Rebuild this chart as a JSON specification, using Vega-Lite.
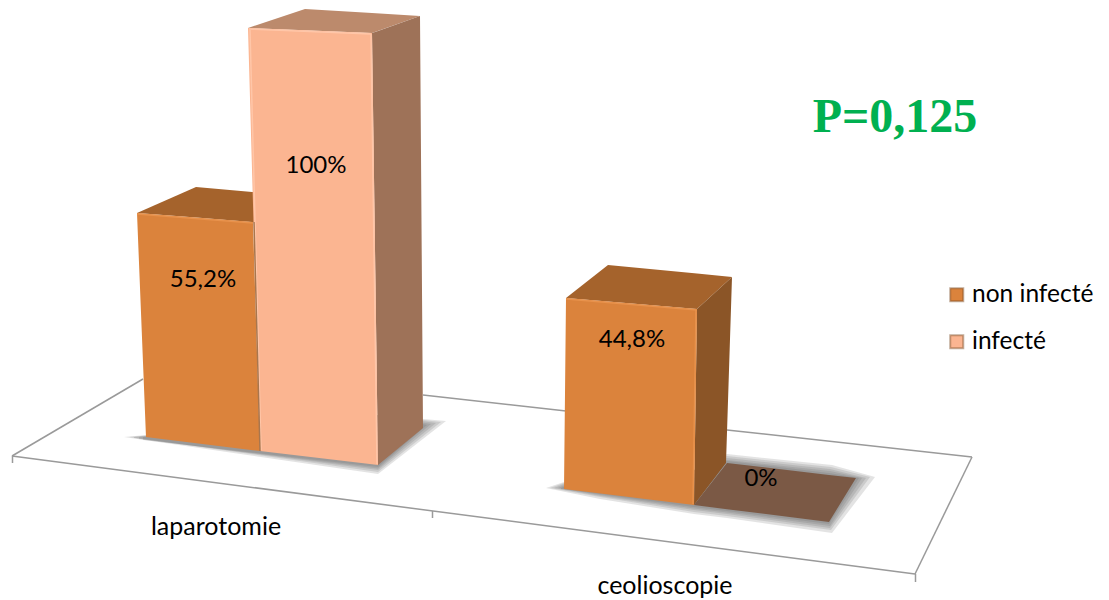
{
"$schema":"https://vega.github.io/schema/vega-lite/v6.json",
"width":1109,"height":600,"padding":0,
"autosize":{"type":"fit","contains":"padding"},
"background":"white",
"view":{"stroke":null},
"config":{"font":"Lato"},
"datasets":{
"floor":[
{"seg":"front","x":12,"y":456},{"seg":"front","x":915,"y":574},
{"seg":"left","x":12,"y":456},{"seg":"left","x":143,"y":379},
{"seg":"right","x":915,"y":574},{"seg":"right","x":972,"y":457},
{"seg":"back1","x":423,"y":395},{"seg":"back1","x":566,"y":411},
{"seg":"back2","x":727,"y":430},{"seg":"back2","x":972,"y":457},
{"seg":"t1","x":12.5,"y":456},{"seg":"t1","x":12.5,"y":463},
{"seg":"t2","x":432.5,"y":511},{"seg":"t2","x":432.5,"y":518},
{"seg":"t3","x":915.5,"y":574},{"seg":"t3","x":915.5,"y":582}
],
"shadow":[
{"id":"a1","x":124,"top":437,"bottom":437},{"id":"a1","x":378,"top":415,"bottom":474},{"id":"a1","x":446,"top":421,"bottom":421},
{"id":"b1","x":129,"top":437,"bottom":437},{"id":"b1","x":378,"top":415,"bottom":472},{"id":"b1","x":441,"top":422,"bottom":422},
{"id":"c1","x":134,"top":437,"bottom":438},{"id":"c1","x":378,"top":415,"bottom":470},{"id":"c1","x":436,"top":423,"bottom":423},
{"id":"d1","x":139,"top":437,"bottom":439},{"id":"d1","x":378,"top":415,"bottom":468.5},{"id":"d1","x":431,"top":424,"bottom":424},
{"id":"e1","x":143,"top":437,"bottom":440},{"id":"e1","x":378,"top":415,"bottom":467},{"id":"e1","x":427,"top":425,"bottom":425},
{"id":"a2","x":546,"top":488,"bottom":488},{"id":"a2","x":600,"top":470,"bottom":499},{"id":"a2","x":694,"top":470,"bottom":514},{"id":"a2","x":727,"top":454,"bottom":518},{"id":"a2","x":832,"top":465,"bottom":533},{"id":"a2","x":875,"top":477,"bottom":477},
{"id":"b2","x":550,"top":488,"bottom":488},{"id":"b2","x":600,"top":470,"bottom":497},{"id":"b2","x":694,"top":470,"bottom":512},{"id":"b2","x":727,"top":456,"bottom":516},{"id":"b2","x":831,"top":467,"bottom":530},{"id":"b2","x":870,"top":477,"bottom":477},
{"id":"c2","x":554,"top":488,"bottom":488},{"id":"c2","x":600,"top":470,"bottom":496},{"id":"c2","x":694,"top":470,"bottom":510},{"id":"c2","x":727,"top":458,"bottom":514},{"id":"c2","x":830,"top":469,"bottom":528},{"id":"c2","x":866,"top":478,"bottom":478},
{"id":"d2","x":558,"top":488,"bottom":488},{"id":"d2","x":600,"top":470,"bottom":495},{"id":"d2","x":694,"top":470,"bottom":508.5},{"id":"d2","x":727,"top":460,"bottom":512.5},{"id":"d2","x":830,"top":471,"bottom":526},{"id":"d2","x":862,"top":478,"bottom":478},
{"id":"e2","x":561,"top":488,"bottom":489},{"id":"e2","x":600,"top":470,"bottom":494},{"id":"e2","x":694,"top":470,"bottom":507},{"id":"e2","x":727,"top":461,"bottom":511},{"id":"e2","x":829,"top":473,"bottom":524},{"id":"e2","x":859,"top":478,"bottom":478}
],
"faces":[
{"face":"f1top","kind":"non infecté dessus","x":137,"top":213,"bottom":213},{"face":"f1top","kind":"non infecté dessus","x":196,"top":187,"bottom":217.6},{"face":"f1top","kind":"non infecté dessus","x":255,"top":192.2,"bottom":222.2},
{"face":"f1front","kind":"non infecté","x":137,"top":213,"bottom":213},{"face":"f1front","kind":"non infecté","x":146,"top":213.7,"bottom":437},{"face":"f1front","kind":"non infecté","x":253,"top":222,"bottom":450.2},{"face":"f1front","kind":"non infecté","x":260,"top":451,"bottom":451},
{"face":"f2top","kind":"infecté dessus","x":248,"top":28,"bottom":28},{"face":"f2top","kind":"infecté dessus","x":305,"top":9,"bottom":30.3},{"face":"f2top","kind":"infecté dessus","x":372,"top":13.1,"bottom":33},{"face":"f2top","kind":"infecté dessus","x":420,"top":16,"bottom":16},
{"face":"f2side","kind":"infecté côté","x":372,"top":33,"bottom":33},{"face":"f2side","kind":"infecté côté","x":378,"top":30.9,"bottom":465},{"face":"f2side","kind":"infecté côté","x":420,"top":16,"bottom":430.5},{"face":"f2side","kind":"infecté côté","x":423,"top":428,"bottom":428},
{"face":"f2front","kind":"infecté","x":248,"top":28,"bottom":28},{"face":"f2front","kind":"infecté","x":260,"top":28.5,"bottom":451},{"face":"f2front","kind":"infecté","x":372,"top":33,"bottom":464.3},{"face":"f2front","kind":"infecté","x":378,"top":465,"bottom":465},
{"face":"f3flat","kind":"infecté nul","x":694,"top":505,"bottom":505},{"face":"f3flat","kind":"infecté nul","x":727,"top":463,"bottom":509.2},{"face":"f3flat","kind":"infecté nul","x":829,"top":474.9,"bottom":522},{"face":"f3flat","kind":"infecté nul","x":856,"top":478,"bottom":478},
{"face":"f3top","kind":"non infecté dessus","x":566,"top":298,"bottom":298},{"face":"f3top","kind":"non infecté dessus","x":608,"top":265,"bottom":301.5},{"face":"f3top","kind":"non infecté dessus","x":697,"top":273.6,"bottom":309},{"face":"f3top","kind":"non infecté dessus","x":732,"top":277,"bottom":277},
{"face":"f3side","kind":"non infecté côté","x":694,"top":505,"bottom":505},{"face":"f3side","kind":"non infecté côté","x":697,"top":309,"bottom":501},{"face":"f3side","kind":"non infecté côté","x":726,"top":282.5,"bottom":463},{"face":"f3side","kind":"non infecté côté","x":732,"top":277,"bottom":277},
{"face":"f3front","kind":"non infecté","x":564,"top":489,"bottom":489},{"face":"f3front","kind":"non infecté","x":566,"top":298,"bottom":489.2},{"face":"f3front","kind":"non infecté","x":694,"top":308.7,"bottom":505},{"face":"f3front","kind":"non infecté","x":697,"top":309,"bottom":309}
],
"edges":[
{"edge":"e1","kind":"clair orange","x":137,"y":214},{"edge":"e1","kind":"clair orange","x":253,"y":223},
{"edge":"e2","kind":"clair orange","x":566,"y":299},{"edge":"e2","kind":"clair orange","x":697,"y":310},
{"edge":"e3","kind":"clair orange","x":696,"y":310},{"edge":"e3","kind":"clair orange","x":693,"y":504},
{"edge":"e4","kind":"clair rose","x":249,"y":29},{"edge":"e4","kind":"clair rose","x":371,"y":34},
{"edge":"e5","kind":"clair rose","x":371,"y":34},{"edge":"e5","kind":"clair rose","x":377,"y":464},
{"edge":"e6","kind":"clair rose","x":250,"y":30},{"edge":"e6","kind":"clair rose","x":261,"y":450},
{"edge":"e7","kind":"sombre","x":254,"y":222},{"edge":"e7","kind":"sombre","x":260,"y":451}
],
"labels":[
{"text":"100%","x":316,"y":166},
{"text":"55,2%","x":203,"y":280},
{"text":"44,8%","x":632,"y":340},
{"text":"0%","x":761,"y":479}
],
"cats":[
{"text":"laparotomie","x":216,"y":527},
{"text":"ceolioscopie","x":665,"y":586}
],
"note":[{"text":"P=0,125","x":895,"y":118}]
},
"layer":[
{"data":{"name":"shadow"},
 "mark":{"type":"area","color":"#5a5a5a","opacity":0.17,"interpolate":"linear"},
 "encoding":{
  "x":{"field":"x","type":"quantitative","scale":{"domain":[0,1109],"nice":false,"zero":false},"axis":null},
  "y":{"field":"top","type":"quantitative","scale":{"domain":[600,0],"nice":false,"zero":false},"axis":null},
  "y2":{"field":"bottom"},
  "detail":{"field":"id"}}},
{"data":{"name":"floor"},
 "mark":{"type":"line","color":"#9a9a9a","strokeWidth":1.5,"interpolate":"linear"},
 "encoding":{
  "x":{"field":"x","type":"quantitative"},
  "y":{"field":"y","type":"quantitative"},
  "detail":{"field":"seg"}}},
{"data":{"name":"faces"},
 "mark":{"type":"area","interpolate":"linear","opacity":1},
 "encoding":{
  "x":{"field":"x","type":"quantitative"},
  "y":{"field":"top","type":"quantitative"},
  "y2":{"field":"bottom"},
  "detail":{"field":"face"},
  "color":{"field":"kind","type":"nominal","sort":null,
   "scale":{"domain":["non infecté","infecté","non infecté dessus","non infecté côté","infecté dessus","infecté côté","infecté nul"],
            "range":["#DB833C","#FBB591","#A5632C","#8B5527","#BC8A6C","#9E7258","#7B5945"]},
   "legend":{"values":["non infecté","infecté"],"title":null,"orient":"none","legendX":944.5,"legendY":282.5,
     "symbolType":"square","symbolSize":170,"symbolStrokeWidth":2,"symbolStrokeColor":"rgba(120,70,30,0.45)","labelFont":"Lato","labelFontSize":24.5,"labelColor":"#000000","labelOffset":3,"rowPadding":22,"labelLimit":200}}}},
{"data":{"name":"edges"},
 "mark":{"type":"line","strokeWidth":1.5,"interpolate":"linear"},
 "encoding":{
  "x":{"field":"x","type":"quantitative"},
  "y":{"field":"y","type":"quantitative"},
  "detail":{"field":"edge"},
  "stroke":{"field":"kind","type":"nominal","legend":null,
    "scale":{"domain":["clair orange","clair rose","sombre"],"range":["#E8924C","#FFC6A8","#A8764E"]}}}},
{"data":{"name":"labels"},
 "mark":{"type":"text","font":"Lato","fontSize":24,"color":"#000000","align":"center","baseline":"middle"},
 "encoding":{
  "x":{"field":"x","type":"quantitative"},
  "y":{"field":"y","type":"quantitative"},
  "text":{"field":"text"}}},
{"data":{"name":"cats"},
 "mark":{"type":"text","font":"Lato","fontSize":25,"color":"#000000","align":"center","baseline":"middle"},
 "encoding":{
  "x":{"field":"x","type":"quantitative"},
  "y":{"field":"y","type":"quantitative"},
  "text":{"field":"text"}}},
{"data":{"name":"note"},
 "mark":{"type":"text","font":"Liberation Serif","fontWeight":"bold","fontSize":48,"color":"#00B050","align":"center","baseline":"middle"},
 "encoding":{
  "x":{"field":"x","type":"quantitative"},
  "y":{"field":"y","type":"quantitative"},
  "text":{"field":"text"}}}
]
}
